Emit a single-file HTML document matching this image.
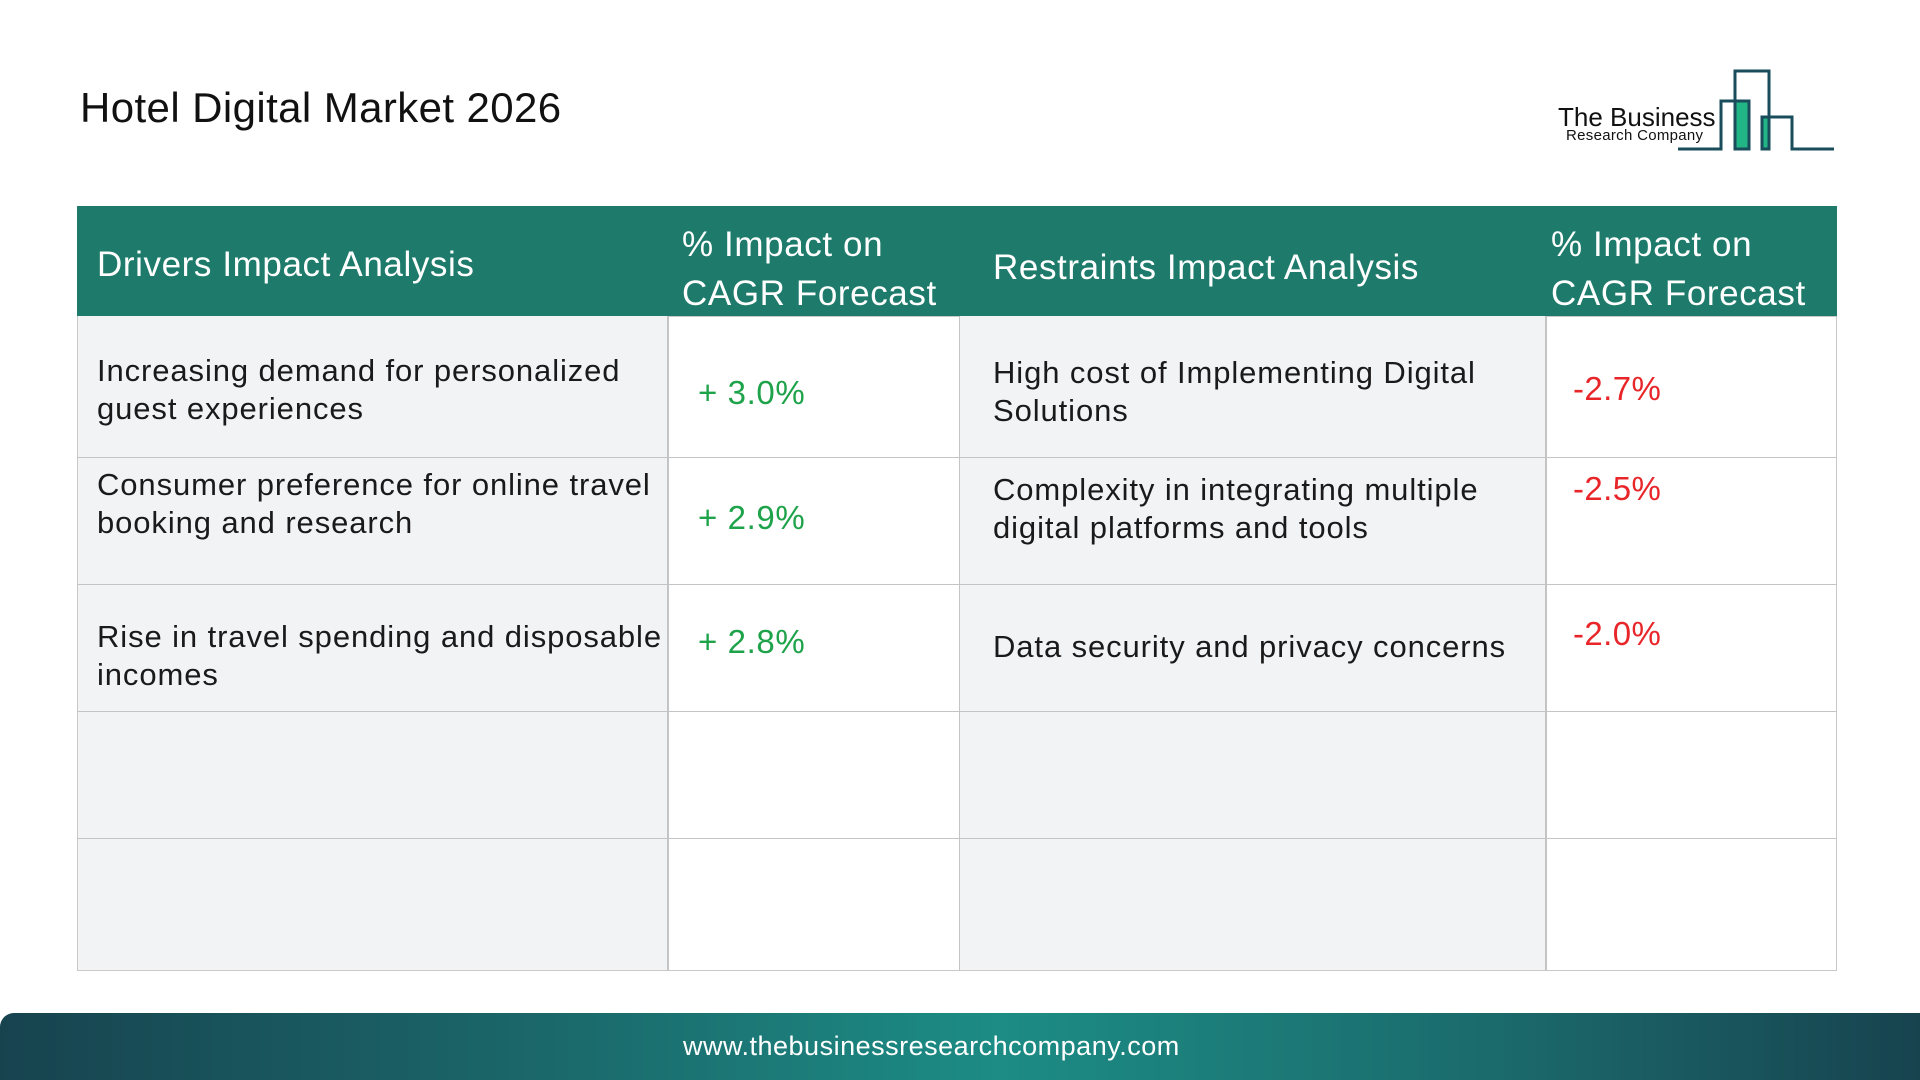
<!DOCTYPE html>
<html><head><meta charset="utf-8"><style>
*{margin:0;padding:0;box-sizing:border-box}
body{width:1920px;height:1080px;background:#fff;position:relative;overflow:hidden;font-family:"Liberation Sans",sans-serif;color:#1a1a1a}
.a{position:absolute;white-space:nowrap}
.t{font-size:31px;line-height:38px;letter-spacing:0.9px}
.h{font-size:35px;line-height:48px;color:#fff;letter-spacing:0.6px}
.g{color:#1ea34a;font-size:33px;line-height:38px;letter-spacing:0.6px}
.r{color:#e8262a;font-size:33px;line-height:38px;letter-spacing:0.4px}
</style></head><body>
<div class="a" style="left:80px;top:83px;font-size:42px;line-height:50px;color:#111;letter-spacing:0.4px">Hotel Digital Market 2026</div>

<div class="a" style="left:1558px;top:100px;font-size:26px;line-height:34px;color:#111">The Business</div>
<div class="a" style="left:1566px;top:128px;font-size:15px;line-height:16px;color:#111;letter-spacing:0.3px">Research Company</div>
<svg class="a" style="left:1670px;top:65px" width="170" height="90" viewBox="1670 65 170 90">
<rect x="1735" y="100" width="15" height="49" fill="#22b585"/>
<rect x="1762" y="117" width="6" height="32" fill="#22b585"/>
<polyline points="1678,149 1721,149 1721,101 1749,101 1749,149 1735,149 1735,71 1769,71 1769,149 1762,149 1762,117 1792,117 1792,149 1834,149" fill="none" stroke="#1a4d5c" stroke-width="3"/>
</svg>

<div class="a" style="left:77px;top:206px;width:1760px;height:110px;background:#1e7b6b"></div>
<div class="a" style="left:77px;top:316px;width:1760px;height:655px;border:1px solid #c9c9c9"></div>
<div class="a" style="left:78px;top:316px;width:589px;height:654px;background:#f2f3f5"></div>
<div class="a" style="left:959px;top:316px;width:586px;height:654px;background:#f2f3f5"></div>
<div class="a" style="left:667px;top:316px;width:2px;height:655px;background:#c4c4c4"></div>
<div class="a" style="left:959px;top:316px;width:1px;height:655px;background:#c4c4c4"></div>
<div class="a" style="left:1545px;top:316px;width:2px;height:655px;background:#c4c4c4"></div>
<div class="a" style="left:77px;top:457px;width:1760px;height:1px;background:#c4c4c4"></div>
<div class="a" style="left:77px;top:584px;width:1760px;height:1px;background:#c4c4c4"></div>
<div class="a" style="left:77px;top:711px;width:1760px;height:1px;background:#c4c4c4"></div>
<div class="a" style="left:77px;top:838px;width:1760px;height:1px;background:#c4c4c4"></div>

<div class="a h" style="left:97px;top:241px">Drivers Impact Analysis</div>
<div class="a h" style="left:682px;top:221px">% Impact on</div>
<div class="a h" style="left:682px;top:270px">CAGR Forecast</div>
<div class="a h" style="left:993px;top:244px">Restraints Impact Analysis</div>
<div class="a h" style="left:1551px;top:221px">% Impact on</div>
<div class="a h" style="left:1551px;top:270px">CAGR Forecast</div>

<div class="a t" style="left:97px;top:352px">Increasing demand for personalized<br>guest experiences</div>
<div class="a t" style="left:97px;top:466px">Consumer preference for online travel<br>booking and research</div>
<div class="a t" style="left:97px;top:618px">Rise in travel spending and disposable<br>incomes</div>

<div class="a g" style="left:698px;top:374px">+ 3.0%</div>
<div class="a g" style="left:698px;top:499px">+ 2.9%</div>
<div class="a g" style="left:698px;top:623px">+ 2.8%</div>

<div class="a t" style="left:993px;top:354px">High cost of Implementing Digital<br>Solutions</div>
<div class="a t" style="left:993px;top:471px">Complexity in integrating multiple<br>digital platforms and tools</div>
<div class="a t" style="left:993px;top:628px">Data security and privacy concerns</div>

<div class="a r" style="left:1573px;top:370px">-2.7%</div>
<div class="a r" style="left:1573px;top:470px">-2.5%</div>
<div class="a r" style="left:1573px;top:615px">-2.0%</div>

<div class="a" style="left:0;top:1013px;width:1920px;height:67px;border-radius:14px 0 0 0;background:linear-gradient(90deg,#17434f 0%,#1b6a6c 30%,#1c8c84 52%,#1b6a6c 78%,#17434f 100%)"></div>
<div class="a" style="left:683px;top:1029px;color:#fff;font-size:27px;line-height:34px;letter-spacing:0.5px">www.thebusinessresearchcompany.com</div>
</body></html>
